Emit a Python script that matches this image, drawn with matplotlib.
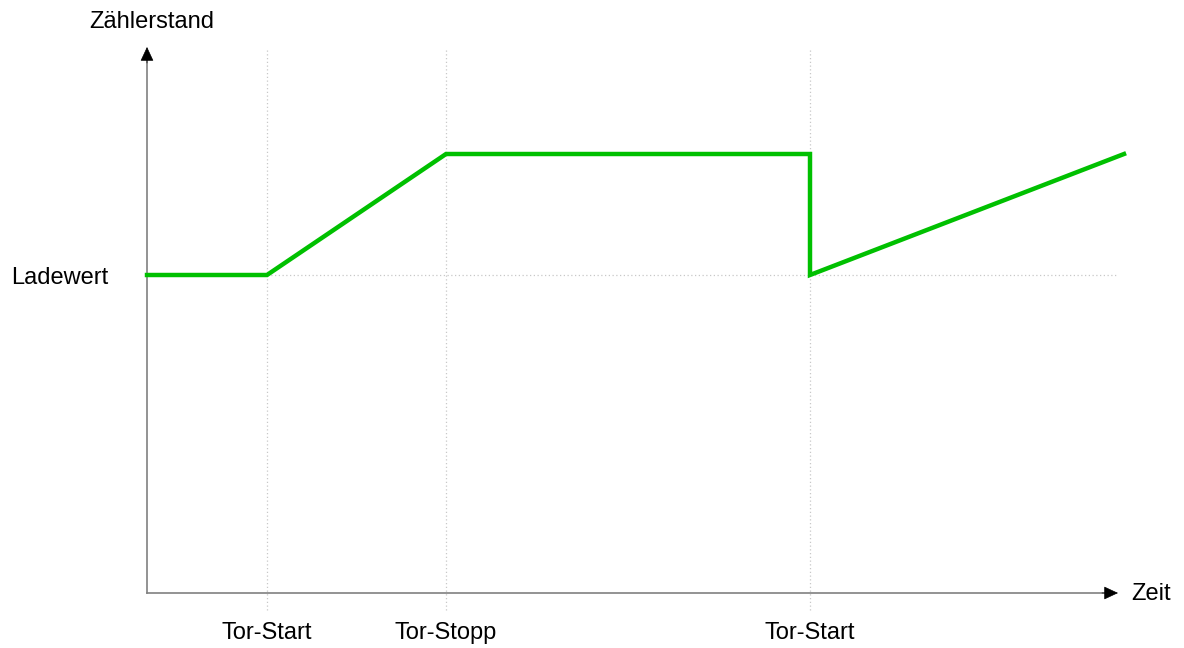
import matplotlib.pyplot as plt

# Zeitpunkte (px ab Ursprung) und Zählerstände
zeit = [0, 120, 299, 663, 663, 977]
zaehler = [318, 318, 439, 439, 318, 439]

tor_zeiten = [120, 299, 663]
tor_labels = ["Tor-Start", "Tor-Stopp", "Tor-Start"]
ladewert = 318

plt.rcParams['font.family'] = ['Liberation Sans', 'DejaVu Sans']

fig = plt.figure(figsize=(11.84, 6.48), dpi=100)
ax = fig.add_axes([0, 0, 1, 1])
ax.set_xlim(-147, 1184 - 147)
ax.set_ylim(-(648 - 593), 593)
ax.axis('off')

grid_kw = dict(color='#c8c8c8', lw=0.9, ls=(0, (1, 2)), zorder=1)
for t in tor_zeiten:
    ax.plot([t, t], [-17, 545], **grid_kw)
ax.plot([0, 971], [ladewert, ladewert], **grid_kw)

# Achsen: graue Linie, schwarze Pfeilspitze
ax.plot([0, 0], [0, 535], color='#808080', lw=1.2, zorder=2)
ax.plot([0, 960], [0, 0], color='#808080', lw=1.2, zorder=2)
head = dict(arrowstyle='-|>,head_length=0.9,head_width=0.42', color='black', lw=0.5,
            shrinkA=0, shrinkB=0)
ax.annotate('', xy=(0, 546), xytext=(0, 530), arrowprops=head)
ax.annotate('', xy=(971, 0), xytext=(955, 0), arrowprops=head)

ax.plot(zeit, zaehler, color='#00c000', lw=3.2, solid_joinstyle='miter', zorder=3)

ax.text(5, 571, "Zählerstand", fontsize=17, ha='center', va='center')
ax.text(-39, ladewert - 3, "Ladewert", fontsize=17, ha='right', va='center')
ax.text(984, -1, "Zeit", fontsize=17, ha='left', va='center')
for t, lab in zip(tor_zeiten, tor_labels):
    ax.text(t, -40, lab, fontsize=17, ha='center', va='center')

fig.savefig('out.png', dpi=100)
